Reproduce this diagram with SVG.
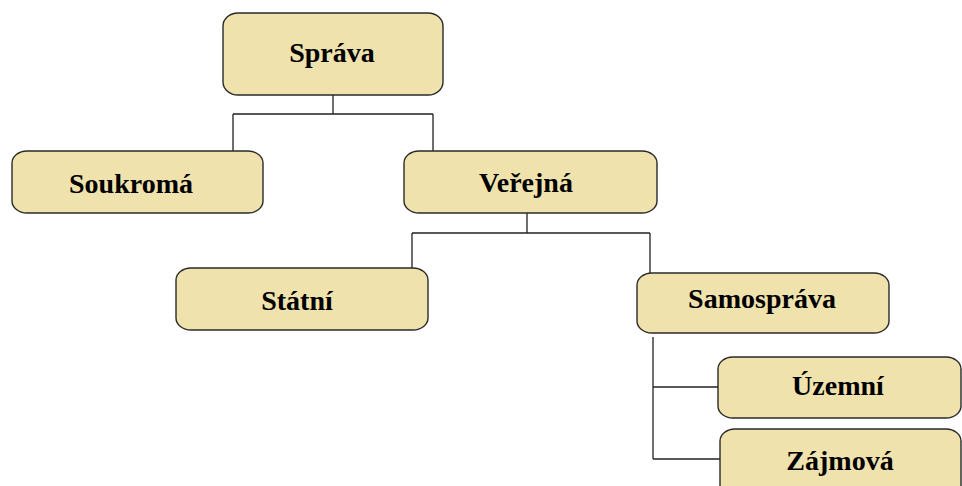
<svg xmlns="http://www.w3.org/2000/svg" width="962" height="486" viewBox="0 0 962 486">
<style>
.box{fill:#EFE2AD;stroke:#2a2a2a;stroke-width:1.4}
.lbl{font-family:"Liberation Serif","Times New Roman",serif;font-weight:bold;font-size:28px;fill:#000;text-anchor:middle}
.ln{fill:none;stroke:#222;stroke-width:1.3}
</style>
<rect width="962" height="486" fill="#fff"/>
<g id="connectors">
<path class="ln" d="M333,95 V114 M233,114 H433 M233,114 V151 M433,114 V151"/>
<path class="ln" d="M527,213 V233 M412,233 H650 M412,233 V268 M650,233 V273"/>
<path class="ln" d="M653,337 V459 M653,387 H718 M653,459 H720"/>
</g>
<g id="sprava"><rect class="box" x="223" y="13" width="220" height="82" rx="15" ry="13"/><text class="lbl" x="332" y="62">Správa</text></g>
<g id="soukroma"><rect class="box" x="12" y="151" width="251" height="62" rx="15" ry="12"/><text class="lbl" x="131" y="193">Soukromá</text></g>
<g id="verejna"><rect class="box" x="404" y="151" width="253" height="62" rx="15" ry="12"/><text class="lbl" x="526" y="192">Veřejná</text></g>
<g id="statni"><rect class="box" x="176" y="268" width="252" height="62" rx="15" ry="12"/><text class="lbl" x="297" y="310">Státní</text></g>
<g id="samosprava"><rect class="box" x="637" y="273" width="252" height="60" rx="15" ry="12"/><text class="lbl" x="762" y="308">Samospráva</text></g>
<g id="uzemni"><rect class="box" x="718" y="357" width="243" height="61" rx="15" ry="12"/><text class="lbl" x="838" y="395">Územní</text></g>
<g id="zajmova"><rect class="box" x="720" y="429" width="241" height="70" rx="15" ry="12"/><text class="lbl" x="840" y="470">Zájmová</text></g>
</svg>
